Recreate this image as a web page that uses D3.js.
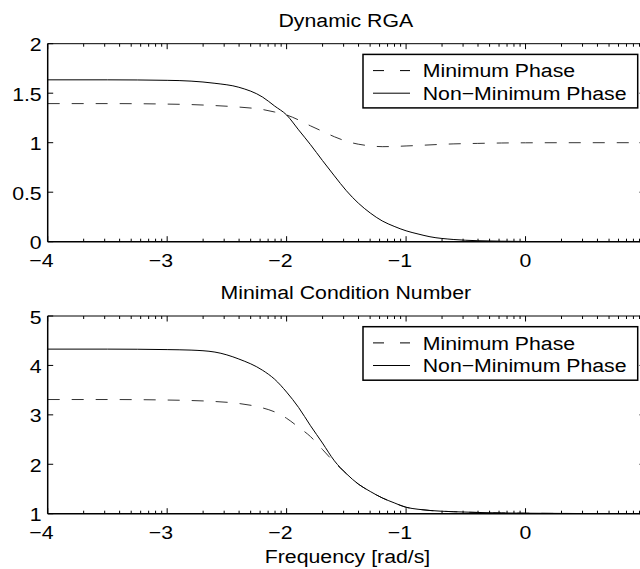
<!DOCTYPE html>
<html>
<head>
<meta charset="utf-8">
<script src="https://cdn.jsdelivr.net/npm/d3@7/dist/d3.min.js"></script>
<style>
  html, body { margin: 0; padding: 0; background: #fff; }
  svg { display: block; }
  text { font-family: "Liberation Sans", Arial, Helvetica, sans-serif; fill: #000; }
</style>
</head>
<body>
<svg id="chart" width="640" height="569"></svg>
<script>
// ---- data (log10 of frequency in rad/s) ----
const logFreq = [-4, -3.5, -3, -2.8, -2.6, -2.4, -2.2, -2.1, -2.0, -1.9, -1.8, -1.7, -1.6, -1.5, -1.4, -1.3, -1.2, -1.1, -1.0, -0.9, -0.8, -0.6, -0.4, -0.2, 0, 0.5, 1];

// Dynamic RGA
const rgaMinPhase    = [1.395, 1.395, 1.39, 1.385, 1.375, 1.36, 1.335, 1.31, 1.28, 1.23, 1.17, 1.115, 1.06, 1.015, 0.985, 0.968, 0.960, 0.962, 0.967, 0.972, 0.978, 0.988, 0.993, 0.997, 0.999, 1.0, 1.0];
const rgaNonMinPhase = [1.635, 1.635, 1.63, 1.622, 1.60, 1.56, 1.46, 1.37, 1.28, 1.13, 0.98, 0.82, 0.665, 0.515, 0.39, 0.29, 0.21, 0.155, 0.11, 0.078, 0.05, 0.022, 0.01, 0.005, 0.002, 0.0, 0.0];

// Minimal condition number
const cnMinPhase     = [3.31, 3.31, 3.30, 3.29, 3.27, 3.23, 3.14, 3.06, 2.93, 2.75, 2.56, 2.30, 2.04, 1.81, 1.60, 1.45, 1.32, 1.22, 1.13, 1.09, 1.065, 1.04, 1.025, 1.015, 1.01, 1.003, 1.001];
const cnNonMinPhase  = [4.33, 4.33, 4.32, 4.31, 4.27, 4.13, 3.90, 3.72, 3.46, 3.15, 2.78, 2.43, 2.07, 1.81, 1.60, 1.45, 1.32, 1.22, 1.13, 1.09, 1.065, 1.04, 1.025, 1.015, 1.01, 1.003, 1.001];

const xTickExps  = [-4, -3, -2, -1, 0, 1];
const xLabelExps = [-4, -3, -2, -1, 0];
const rgaYTicks = [0, 0.5, 1, 1.5, 2];
const cnYTicks  = [1, 2, 3, 4, 5];
const seriesNames = ["Minimum Phase", "Non\u2212Minimum Phase"];
const titles = ["Dynamic RGA", "Minimal Condition Number"];
const xLabel = "Frequency [rad/s]";

// ---- layout ----
const svg = d3.select("#chart");
const left = 47.7, right = 645;
const FS = 19, SX = 1.12;

function txt(parent, px, py, str, anchor) {
  return parent.append("text")
    .attr("transform", `translate(${px},${py}) scale(${SX},1)`)
    .attr("text-anchor", anchor || "start")
    .attr("font-size", FS)
    .text(str);
}

const x = d3.scaleLog().domain([1e-4, 1e1]).range([left, right]);

const panels = [
  { top: 43.7, bottom: 241.7, y: [0, 2], ticks: rgaYTicks, mp: rgaMinPhase, nmp: rgaNonMinPhase, title: titles[0] },
  { top: 316, bottom: 513.7, y: [1, 5], ticks: cnYTicks, mp: cnMinPhase, nmp: cnNonMinPhase, title: titles[1] }
];

const fmtY = d => String(d);
const fmtX = e => (e < 0 ? "\u2212" + Math.abs(e) : String(e));

panels.forEach((p, pi) => {
  const y = d3.scaleLinear().domain(p.y).range([p.bottom, p.top]);
  const g = svg.append("g");

  const line = d3.line()
    .x((d, i) => x(Math.pow(10, logFreq[i])))
    .y(d => y(d))
    .curve(d3.curveMonotoneX);

  const clipId = "clip" + pi;
  svg.append("clipPath").attr("id", clipId)
    .append("rect").attr("x", left).attr("y", p.top).attr("width", right - left).attr("height", p.bottom - p.top);

  g.append("path").datum(p.mp)
    .attr("d", line).attr("fill", "none")
    .attr("stroke", "#333").attr("stroke-width", 1)
    .attr("stroke-dasharray", "12,12")
    .attr("clip-path", `url(#${clipId})`);
  g.append("path").datum(p.nmp)
    .attr("d", line).attr("fill", "none")
    .attr("stroke", "#000").attr("stroke-width", 1)
    .attr("clip-path", `url(#${clipId})`);

  // box
  g.append("line").attr("x1", left).attr("x2", right).attr("y1", p.top).attr("y2", p.top)
    .attr("stroke", "#000").attr("stroke-width", 1);
  g.append("line").attr("x1", left).attr("x2", right).attr("y1", p.bottom).attr("y2", p.bottom)
    .attr("stroke", "#000").attr("stroke-width", 1.5);
  g.append("line").attr("x1", left).attr("x2", left).attr("y1", p.top).attr("y2", p.bottom)
    .attr("stroke", "#000").attr("stroke-width", 1.5);
  g.append("line").attr("x1", right).attr("x2", right).attr("y1", p.top).attr("y2", p.bottom)
    .attr("stroke", "#000").attr("stroke-width", 1);

  // x ticks (major + minor), inward on bottom and top
  const minor = [];
  for (let e = -4; e < 1; e++) for (let k = 2; k <= 9; k++) minor.push(k * Math.pow(10, e));
  const major = xTickExps.map(e => Math.pow(10, e));
  [[p.bottom, -1], [p.top, 1]].forEach(([yy, dir]) => {
    g.selectAll(null).data(minor).enter().append("line")
      .attr("x1", d => x(d)).attr("x2", d => x(d))
      .attr("y1", yy).attr("y2", yy + dir * 3)
      .attr("stroke", "#000").attr("stroke-width", 1);
    g.selectAll(null).data(major).enter().append("line")
      .attr("x1", d => x(d)).attr("x2", d => x(d))
      .attr("y1", yy).attr("y2", yy + dir * 5.5)
      .attr("stroke", "#000").attr("stroke-width", 1);
  });

  // y ticks, inward on left and right
  g.selectAll(null).data(p.ticks).enter().append("line")
    .attr("x1", left).attr("x2", left + 5.5)
    .attr("y1", d => y(d)).attr("y2", d => y(d))
    .attr("stroke", "#000").attr("stroke-width", 1);
  g.selectAll(null).data(p.ticks).enter().append("line")
    .attr("x1", right).attr("x2", right - 5.5)
    .attr("y1", d => y(d)).attr("y2", d => y(d))
    .attr("stroke", "#000").attr("stroke-width", 1);

  // y labels
  p.ticks.forEach(d => txt(g, left - 6, y(d) + 7.5, fmtY(d), "end"));

  // x labels
  xLabelExps.forEach(e => txt(g, x(Math.pow(10, e)) + 5.9, p.bottom + 25.5, fmtX(e), "end"));

  // title
  txt(g, (left + right) / 2 - 0.5, p.top - 17, p.title, "middle");

  // legend
  const lx = 363, lw = 274.7, ly = p.top + 10.7, lh = 53.5;
  const lg = g.append("g");
  lg.append("rect").attr("x", lx).attr("y", ly).attr("width", lw).attr("height", lh)
    .attr("fill", "#fff").attr("stroke", "#000").attr("stroke-width", 1.5);
  const rows = [
    { name: seriesNames[0], dash: "11,16" },
    { name: seriesNames[1], dash: null }
  ];
  rows.forEach((r, i) => {
    const ry = ly + 16.2 + i * 22.6;
    const l = lg.append("line").attr("x1", lx + 10).attr("x2", lx + 47)
      .attr("y1", ry).attr("y2", ry)
      .attr("stroke", "#000").attr("stroke-width", 1);
    if (r.dash) l.attr("stroke-dasharray", r.dash);
    txt(lg, lx + 59.7, ry + 6.8, r.name, "start");
  });
});

txt(svg, 347.5, 563, xLabel, "middle");
</script>
</body>
</html>
